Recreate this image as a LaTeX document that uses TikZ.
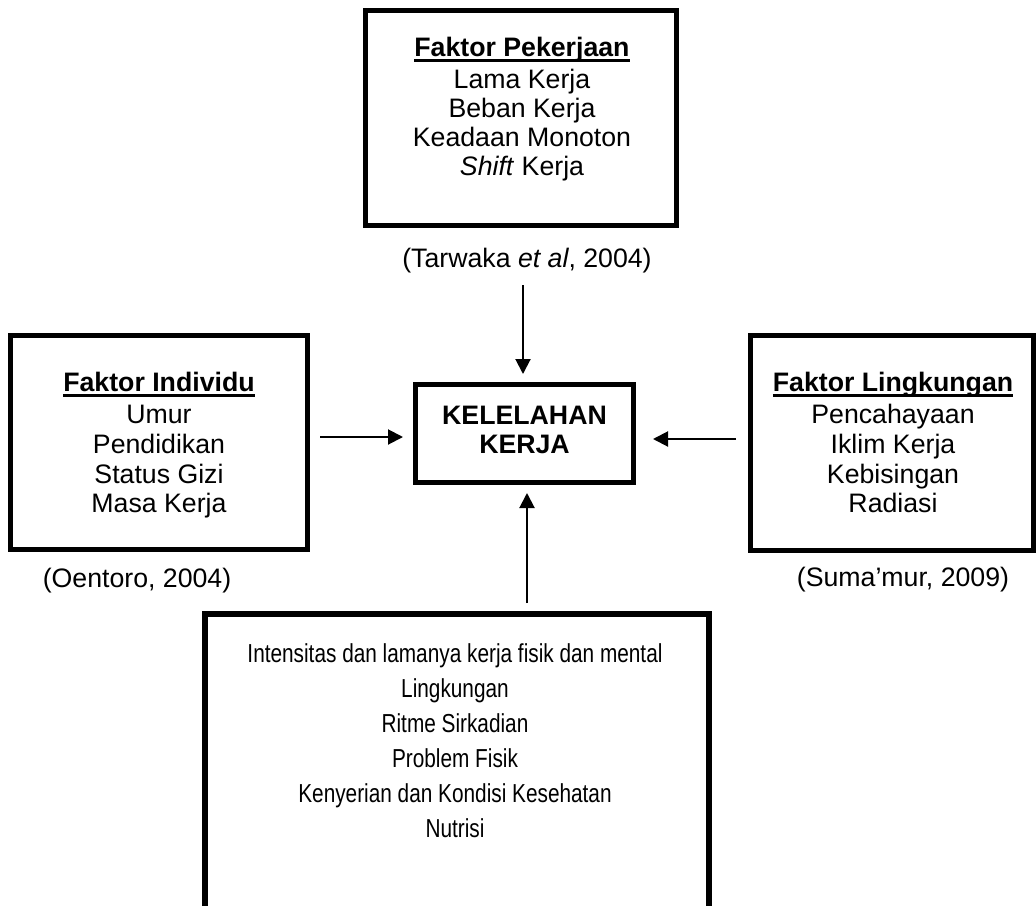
\documentclass[tikz,border=0pt]{standalone}
\usepackage{fontspec}
\setmainfont{Liberation Sans}
\newfontfamily\narrowfont[FakeStretch=0.8]{Liberation Sans}
\usetikzlibrary{arrows.meta}
\newcommand\ulx[1]{\setbox0\hbox{#1}\rlap{\rule[-5.6pt]{\wd0}{2.6pt}}\box0}
\begin{document}
\begin{tikzpicture}[x=1pt,y=-1pt,
  frame/.style={draw, line width=5pt, inner sep=0pt, fill=none},
  txt/.style={anchor=base, inner sep=0pt, font=\fontsize{26.7}{30}\selectfont},
  btxt/.style={anchor=base, inner sep=0pt, font=\narrowfont\fontsize{26}{30}\selectfont},
  arr/.style={line width=2pt, -{Triangle[length=15pt,width=15pt]}}]
\useasboundingbox (0,0) rectangle (1036,905);
\begin{scope}
\clip (0,0) rectangle (1036,905);
% boxes
\node[frame, minimum width=311pt, minimum height=215pt] (pek) at (521,118) {};
\node[frame, minimum width=297pt, minimum height=214pt] (ind) at (159,442.5) {};
\node[frame, minimum width=283pt, minimum height=215pt] (lin) at (892,443) {};
\node[frame, minimum width=218pt, minimum height=98pt] (kel) at (524.5,433.5) {};
\node[frame, line width=6pt, minimum width=504pt, minimum height=400pt] (oth) at (457,814) {};
% top box text
\node[txt] (p0) at (522,56) {\ulx{\textbf{Faktor Pekerjaan}}};
\node[txt] (p1) at (522,88) {Lama Kerja};
\node[txt] (p2) at (522,117) {Beban Kerja};
\node[txt] (p3) at (522,146) {Keadaan Monoton};
\node[txt] (p4) at (522,175) {\textit{Shift} Kerja};
\node[txt] (c1) at (527,267) {(Tarwaka \textit{et al}, 2004)};
% left box text
\node[txt] (i0) at (159,391) {\ulx{\textbf{Faktor Individu}}};
\node[txt] (i1) at (159,423) {Umur};
\node[txt] (i2) at (159,453) {Pendidikan};
\node[txt] (i3) at (159,483) {Status Gizi};
\node[txt] (i4) at (159,512) {Masa Kerja};
\node[txt] (c2) at (137,587) {(Oentoro, 2004)};
% right box text
\node[txt] (l0) at (893,391) {\ulx{\textbf{Faktor Lingkungan}}};
\node[txt] (l1) at (893,423) {Pencahayaan};
\node[txt] (l2) at (893,453) {Iklim Kerja};
\node[txt] (l3) at (893,483) {Kebisingan};
\node[txt] (l4) at (893,512) {Radiasi};
\node[txt] (c3) at (903,586) {(Suma’mur, 2009)};
% centre text
\node[txt, font=\bfseries\fontsize{26.7}{30}\selectfont] (k1) at (524.5,424) {KELELAHAN};
\node[txt, font=\bfseries\fontsize{26.7}{30}\selectfont] (k2) at (524.5,453) {KERJA};
% bottom text
\node[btxt] (b1) at (455,662) {Intensitas dan lamanya kerja fisik dan mental};
\node[btxt] (b2) at (455,697) {Lingkungan};
\node[btxt] (b3) at (455,732) {Ritme Sirkadian};
\node[btxt] (b4) at (455,767) {Problem Fisik};
\node[btxt] (b5) at (455,802) {Kenyerian dan Kondisi Kesehatan};
\node[btxt] (b6) at (455,837) {Nutrisi};
% arrow start points
\coordinate (aT) at (523,285);
\coordinate (aL) at (320,437);
\coordinate (aR) at (736,439);
\coordinate (aB) at (527,603);
\draw[arr, shorten >=8pt] (aT) -- (aT |- kel.north);
\draw[arr, shorten >=10pt] (aL) -- (aL -| kel.west);
\draw[arr, shorten >=17pt] (aR) -- (aR -| kel.east);
\draw[arr, shorten >=8pt] (aB) -- (aB |- kel.south);
\end{scope}
\end{tikzpicture}
\end{document}
